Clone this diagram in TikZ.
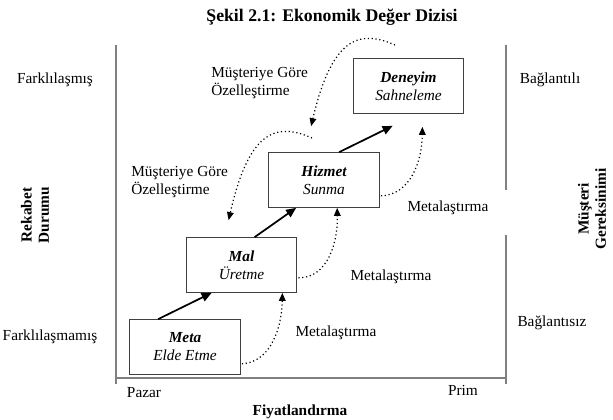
\documentclass[tikz,border=0pt]{standalone}
\usepackage{fontspec}
\setmainfont{Liberation Serif}
\usetikzlibrary{arrows.meta,calc}
\begin{document}
\begin{tikzpicture}
[
    x=0.75pt, y=-0.75pt,
    every node/.style={font=\fontsize{11.5}{14}\selectfont, align=center, inner sep=0pt},
    stage/.style={draw=black!75, line width=0.8pt, minimum width=83pt, minimum height=41pt,
        font=\fontsize{11.5}{13.5}\selectfont\itshape},
    axis/.style={draw=black!50, line width=1pt},
    flow/.style={line width=1.3pt, -{Triangle[length=7.5pt,width=6.5pt]}},
    loop/.style={dotted, line width=0.9pt, -{Triangle[length=6pt,width=5pt]}},
    side/.style={font=\fontsize{11.5}{13}\selectfont\bfseries, rotate=90},
]
\useasboundingbox (0,0) rectangle (613,419);
\node[font=\fontsize{13.3}{16}\selectfont\bfseries] (baslik) at (332,17) {Şekil 2.1: Ekonomik Değer Dizisi};
% eksenler
\draw[axis] (116,45) -- (116,384);
\draw[axis] (116,378) -- (506,378);
\draw[axis] (506,45) -- (506,190);
\draw[axis] (506,235) -- (506,384);
% kenar yazilari
\node (farkli) at (55,80) {Farklılaşmış};
\node (farksiz) at (50,337) {Farklılaşmamış};
\node[side] (rekabet) at (35,215) {Rekabet\\Durumu};
\node (bagli) at (550,80) {Bağlantılı};
\node (bagsiz) at (552,323) {Bağlantısız};
\node[side] (musteri) at (592,209) {Müşteri\\Gereksinimi};
\node (pazar) at (144,393) {Pazar};
\node (prim) at (463,390) {Prim};
\node[font=\fontsize{11.5}{14}\selectfont\bfseries] (fiyat) at (300,412) {Fiyatlandırma};
% asamalar
\node[stage] (meta) at (185,347) {\textbf{Meta}\\Elde Etme};
\node[stage] (mal) at (241.5,265) {\textbf{Mal}\\Üretme};
\node[stage] (hizmet) at (324,180) {\textbf{Hizmet}\\Sunma};
\node[stage] (deneyim) at (408.5,86) {\textbf{Deneyim}\\Sahneleme};
\draw[flow] ($(meta.north west)+(29,0)$) -- ($(mal.south west)+(26,0)$);
\draw[flow] ($(mal.north west)+(69,0)$) -- ($(hizmet.south west)+(28,0)$);
\draw[flow] ($(hizmet.north west)+(71,0)$) -- ($(deneyim.south west)+(40,12)$);
% metalastirma
\node (metal1) at (448,208) {Metalaştırma};
\node (metal2) at (391,277) {Metalaştırma};
\node (metal3) at (336,333) {Metalaştırma};
\draw[loop] ($(meta.south east)+(1,-11)$) .. controls (272,362) and (282,325) .. ($(mal.south east)+(-15,0)$);
\draw[loop] ($(mal.south east)+(1,-15)$) .. controls (328,278) and (338,242) .. ($(hizmet.south west)+(69,0)$);
\draw[loop] ($(hizmet.south east)+(1,-12)$) .. controls (410,195) and (422,162) .. ($(deneyim.south east)+(-42,13)$);
% musteriye gore
\node[anchor=west, align=left] (ozel1) at (131,182) {Müşteriye Göre\\Özelleştirme};
\node[anchor=west, align=left] (ozel2) at (211,83) {Müşteriye Göre\\Özelleştirme};
\coordinate (u1) at (312,138);
\coordinate (u2) at (395,45);
\draw[loop] (u1) .. controls (280,124) and (250,125) .. ($(mal.north west)+(43,-17)$);
\draw[loop] (u2) .. controls (363,31) and (333,32) .. ($(hizmet.north west)+(43,-26)$);
\end{tikzpicture}
\end{document}
